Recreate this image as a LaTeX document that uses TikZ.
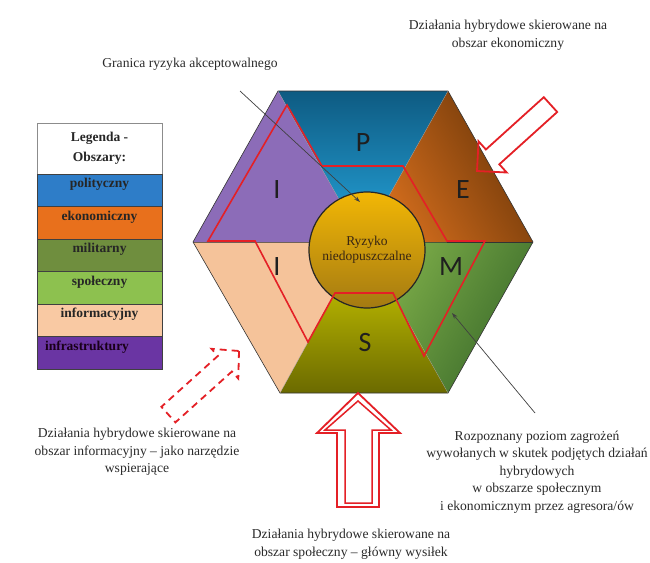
\documentclass[tikz,border=0pt]{standalone}
\usepackage{fontspec}
\setmainfont{Liberation Serif}
\newfontfamily\bodyfont[Ligatures=TeX]{Liberation Serif}
\newfontfamily\lettfont{Carlito}
\usetikzlibrary{calc,arrows.meta}
\definecolor{myred}{RGB}{228,32,38}
\definecolor{pdark}{HTML}{0E5B82}
\definecolor{plight}{HTML}{26A6DE}
\definecolor{edark}{HTML}{6B3608}
\definecolor{elight}{HTML}{D9701E}
\definecolor{mdark}{HTML}{3A6A2A}
\definecolor{mlight}{HTML}{80B04A}
\definecolor{sdark}{HTML}{6B6A00}
\definecolor{slight}{HTML}{D8D400}
\definecolor{ipeach}{HTML}{F5C39A}
\definecolor{ipurple}{HTML}{8C6CB8}
\definecolor{goldtop}{HTML}{F2B705}
\definecolor{goldbot}{HTML}{A47A12}
\definecolor{txt}{HTML}{2A2A2A}
\definecolor{lpol}{HTML}{2E7DC8}
\definecolor{leko}{HTML}{E8701C}
\definecolor{lmil}{HTML}{6F8E3E}
\definecolor{lspo}{HTML}{8DC14F}
\definecolor{linf}{HTML}{F9C9A3}
\definecolor{linfra}{HTML}{6A35A3}
\tikzset{
  sector/.style={draw=black!80, line width=0.6pt},
  letter/.style={font=\lettfont\fontsize{28}{28}\selectfont, text=black!88},
  bodytext/.style={font=\bodyfont\fontsize{13.6}{17.5}\selectfont, text=txt, align=center, inner sep=0pt},
  legrow/.style={draw=black!75, line width=0.6pt, minimum width=125pt, minimum height=32.5pt,
     inner sep=0pt, text height=13.5pt, text depth=19pt, font=\bodyfont\bfseries\fontsize{13.5}{15}\selectfont, text=black!85},
  redarrow/.style={draw=myred, line width=1.8pt, line join=miter},
  pointer/.style={draw=black!75, line width=0.7pt, -{Stealth[length=6pt,width=4pt]}},
}
\begin{document}
\begin{tikzpicture}[x=1pt,y=-1pt]
\useasboundingbox (0,0) rectangle (650,562);
\fill[white] (0,0) rectangle (650,562);
% hexagon vertices
\coordinate (O) at (363,242);
\coordinate (V0) at (533,242);
\coordinate (V1) at (448,91);
\coordinate (V2) at (278,91);
\coordinate (V3) at (193,242);
\coordinate (V4) at (280,393);
\coordinate (V5) at (448,393);
% sectors
\shade[top color=pdark, bottom color=plight] (V2)--(V1)--(O)--cycle;
\shade[top color=edark, bottom color=elight, shading angle=-60] (V1)--(V0)--(O)--cycle;
\shade[top color=mdark, bottom color=mlight, shading angle=-120] (V0)--(V5)--(O)--cycle;
\shade[top color=slight, bottom color=sdark] (V5)--(V4)--(O)--cycle;
\fill[ipeach] (V4)--(V3)--(O)--cycle;
\fill[ipurple] (V3)--(V2)--(O)--cycle;
\draw[sector] (V0)--(V1)--(V2)--(V3)--(V4)--(V5)--cycle;
\draw[sector] (V3)--(O)--(V0);
\draw[sector, draw=black!40, line width=0.3pt] (V1)--(O)--(V4) (V2)--(O)--(V5);
% letters
\node[letter] (lP) at (363,143) {P};
\node[letter] (lE) at (463,190) {E};
\node[letter] (lM) at (451,267) {M};
\node[letter] (lS) at (365,343) {S};
\node[letter] (lI1) at (277,190) {I};
\node[letter] (lI2) at (277,267) {I};
% central circle
\node[circle, draw=black!85, line width=1.2pt, minimum size=116pt, inner sep=0pt,
      top color=goldtop, bottom color=goldbot, align=center,
      font=\bodyfont\fontsize{13.5}{15}\selectfont, text=black!70!brown] (risk) at (367,250) {Ryzyko\\niedopuszczalne};
% red boundary of acceptable risk
\draw[myred, line width=1.6pt, line join=miter]
  (287,105)--(322,166)--(403,166)--(447,241)--(485,241)--(424,356)--(393,293)
  --(335,293)--(308,342)--(255,241)--(208,241)--cycle;
% arrow to economic area
\draw[redarrow] (477,171)--(478.5,141.3)--(485.9,149.5)--(543.8,97.2)--(557.2,112.0)
  --(499.3,164.3)--(506.7,172.5)--cycle;
% dashed arrow informational
\draw[redarrow, dash pattern=on 7pt off 5pt, line width=1.8pt] (239,351)--(238.3,378.6)--(231.9,371.5)
  --(175.4,422.4)--(161.4,406.8)--(217.9,355.9)--(211.5,348.8)--cycle;
% main effort arrow (double outline)
\draw[redarrow] (358,393)--(400,433)--(379,433)--(379,507)--(337,507)--(337,433)--(317,433)--cycle;
\draw[redarrow, line width=1.5pt] (358,401)--(391,430)--(372,430)--(372,503)--(345,503)--(345,430)--(325,430)--cycle;
% legend
\node[draw=black!45, line width=0.6pt, minimum width=125pt, minimum height=51pt, inner sep=0pt,
      align=center, font=\bodyfont\bfseries\fontsize{13.5}{20}\selectfont, text=black!85] (legT) at (99.5,148.5) {Legenda -\\Obszary:};
\node[legrow, fill=lpol] (leg1) at (99.5,190.25) {polityczny};
\node[legrow, fill=leko] (leg2) at (99.5,222.75) {ekonomiczny};
\node[legrow, fill=lmil] (leg3) at (99.5,255.25) {militarny};
\node[legrow, fill=lspo] (leg4) at (99.5,287.75) {społeczny};
\node[legrow, fill=linf] (leg5) at (99.5,320.25) {informacyjny};
\node[legrow, fill=linfra, text width=117pt, align=left, inner xsep=4pt, text=black!80!violet] (leg6) at (99.5,352.75) {\hspace*{4pt}infrastruktury};
% texts
\node[bodytext] (tEko) at (508,35) {Działania hybrydowe skierowane na\\obszar ekonomiczny};
\node[bodytext] (tGran) at (190,64) {Granica ryzyka akceptowalnego};
\node[bodytext] (tInfo) at (137,452) {Działania hybrydowe skierowane na\\obszar informacyjny – jako narzędzie\\wspierające};
\node[bodytext] (tSpo) at (351,544) {Działania hybrydowe skierowane na\\obszar społeczny – główny wysiłek};
\node[bodytext] (tRoz) at (537,472) {Rozpoznany poziom zagrożeń\\wywołanych w skutek podjętych działań\\hybrydowych\hspace*{48pt}\\w obszarze społecznym\\i ekonomicznym przez agresora/ów};
% pointers
\coordinate (gStart) at (240,91);
\coordinate (gEnd) at (360,202);
\draw[pointer] (gStart) -- (gEnd);
\coordinate (mStart) at (535,413);
\coordinate (mEnd) at (452,313);
\draw[pointer] (mStart) -- (mEnd);
\end{tikzpicture}
\end{document}
